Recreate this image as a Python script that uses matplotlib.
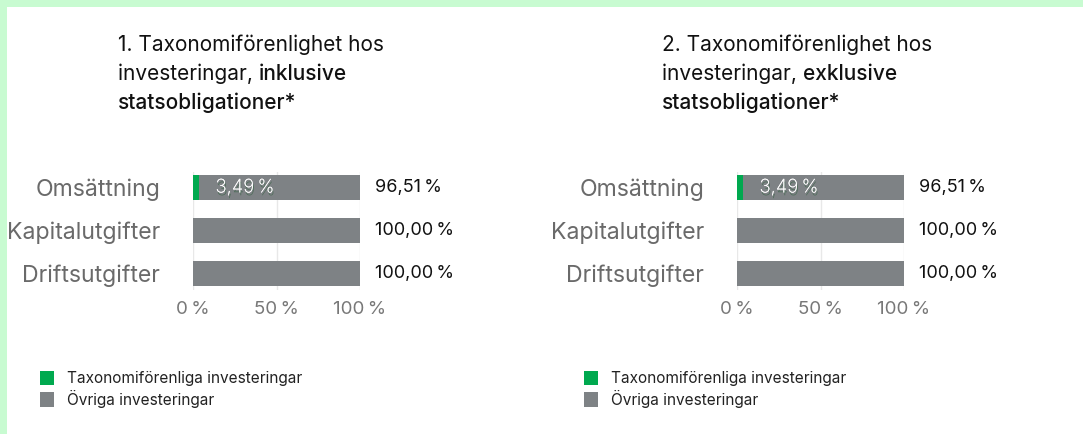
import matplotlib
matplotlib.use("Agg")
import matplotlib.pyplot as plt
import matplotlib.patheffects as pe
from matplotlib.patches import Patch, Rectangle
from matplotlib.text import Annotation

plt.rcParams["font.family"] = ["Inter", "DejaVu Sans"]

categories = ["Omsättning", "Kapitalutgifter", "Driftsutgifter"]
aligned = [3.49, 0.0, 0.0]
other = [96.51, 100.0, 100.0]
value_labels = ["96,51\u2009%", "100,00\u2009%", "100,00\u2009%"]
inner_labels = ["3,49\u2009%", "", ""]
xticks = [0, 50, 100]
xtick_labels = ["0\u2009%", "50\u2009%", "100\u2009%"]
panel_titles = [
    ("1. Taxonomiförenlighet hos", "investeringar, ", "inklusive", "statsobligationer*"),
    ("2. Taxonomiförenlighet hos", "investeringar, ", "exklusive", "statsobligationer*"),
]
legend_labels = ["Taxonomiförenliga investeringar", "Övriga investeringar"]

GREEN = "#00a94f"
GREY = "#7e8285"
W, H = 1083, 434

fig = plt.figure(figsize=(W / 100, H / 100), dpi=100)
fig.patch.set_facecolor("#c8fbd1")
fig.patches.append(Rectangle((7 / W, 0), 1, 1 - 7 / H, transform=fig.transFigure,
                             facecolor="white", edgecolor="none", zorder=-5))


def px(x, y):
    return x / W, 1 - y / H


for k, (t1, t2a, t2b, t3) in enumerate(panel_titles):
    dx = 544 * k
    # title block, second line mixes regular and bold
    tx, ty = px(118 + dx, 45)
    fig.text(tx, ty, t1, fontsize=15, va="center", color="#111111")
    tx, ty = px(118 + dx, 74)
    first = fig.text(tx, ty, t2a, fontsize=15, va="center", color="#111111")
    fig.add_artist(Annotation(t2b, xy=(1, 0), xycoords=first, va="bottom", ha="left",
                              fontsize=15, fontweight="medium", color="#111111",
                              annotation_clip=False))
    tx, ty = px(118 + dx, 103)
    fig.text(tx, ty, t3, fontsize=15, fontweight="medium", va="center", color="#111111")

    # bar axes
    left, top = px(193 + dx, 172)
    _, bottom = px(0, 290)
    ax = fig.add_axes([left, bottom, 167 / W, top - bottom])
    ax.set_facecolor("none")
    ypos = list(range(len(categories)))
    ax.barh(ypos, aligned, height=0.58, color=GREEN, zorder=2)
    ax.barh(ypos, other, left=aligned, height=0.58, color=GREY, zorder=2)
    ax.set_xlim(0, 100)
    ax.set_ylim(2 + 16.5 / 43, -15.5 / 43)
    ax.set_yticks(ypos, categories, fontsize=16.6, color="#6a6a6a")
    ax.set_xticks(xticks, xtick_labels, fontsize=13.5, color="#787878")
    ax.tick_params(axis="y", length=0, pad=23.5)
    ax.tick_params(axis="x", length=0, pad=8)
    for s in ax.spines.values():
        s.set_visible(False)
    ax.grid(axis="x", color="#e8e8e8", linewidth=1, zorder=1)

    for i, lab in enumerate(value_labels):
        ax.annotate(lab, xy=(aligned[i] + other[i], i), xytext=(11, 0),
                    textcoords="offset points", va="center", ha="left",
                    fontsize=13, color="#111111", annotation_clip=False)
    for i, lab in enumerate(inner_labels):
        if lab:
            ax.annotate(lab, xy=(aligned[i], i), xytext=(12, 0),
                        textcoords="offset points", va="center", ha="left",
                        fontsize=13.5, color="white", fontweight="light", zorder=3,
                        path_effects=[pe.withSimplePatchShadow(offset=(0.7, -2.0),
                                                               shadow_rgbFace="#2e5e3c",
                                                               alpha=0.6),
                                      pe.Normal()])

    # legend
    lx, ly = px(35 + dx, 366)
    fig.legend(handles=[Patch(facecolor=GREEN), Patch(facecolor=GREY)],
               labels=legend_labels, loc="upper left", bbox_to_anchor=(lx, ly),
               frameon=False, fontsize=11.1, handlelength=0.9, handleheight=1.1,
               handletextpad=0.9, labelspacing=0.22, labelcolor="#222222",
               borderaxespad=0, borderpad=0.3)

fig.savefig("out.png", dpi=100)
